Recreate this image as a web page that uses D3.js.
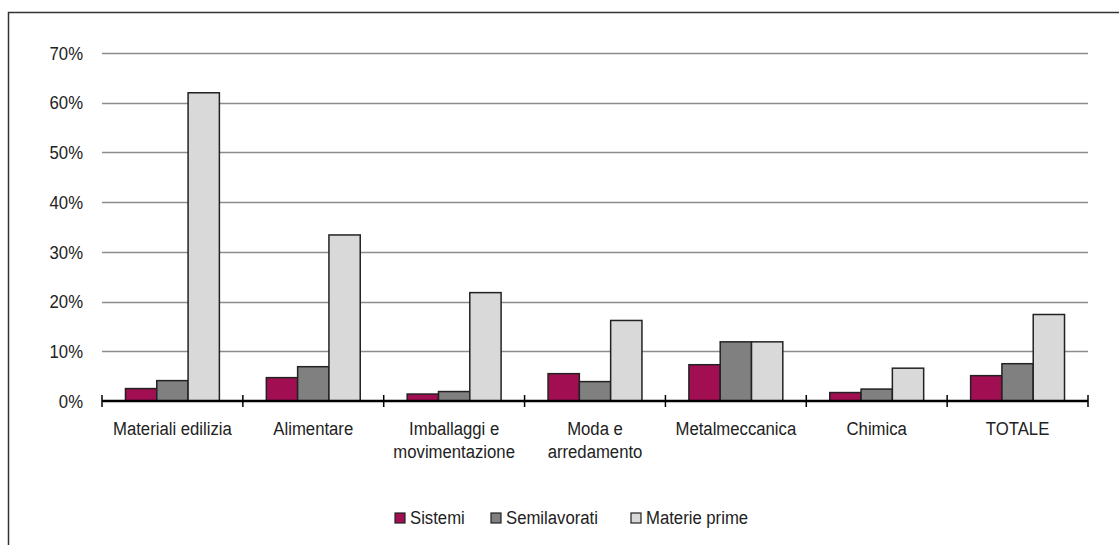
<!DOCTYPE html>
<html>
<head>
<meta charset="utf-8">
<script src="https://cdn.jsdelivr.net/npm/d3@7"></script>
<style>
  body { margin: 0; background: #fff; }
  svg text { font-family: "Liberation Sans Narrow", "Arial Narrow", "Liberation Sans", Arial, sans-serif; fill: #222; }
</style>
</head>
<body>
<div id="chart"></div>
<script>
// categories (x axis), multi-line labels split on "\n"
var categories = ["Materiali edilizia", "Alimentare", "Imballaggi e\nmovimentazione", "Moda e\narredamento", "Metalmeccanica", "Chimica", "TOTALE"];
var seriesNames = ["Sistemi", "Semilavorati", "Materie prime"];
var seriesColors = ["#a10e52", "#808080", "#d9d9d9"];

// values in %
var sistemi      = [2.5, 4.7, 1.4, 5.5, 7.3, 1.7, 5.1];
var semilavorati = [4.1, 6.9, 1.9, 3.9, 11.9, 2.4, 7.5];
var materiePrime = [62.0, 33.4, 21.8, 16.2, 11.9, 6.6, 17.4];

var yTicks = [0, 10, 20, 30, 40, 50, 60, 70];

/*
------------------------
dimensions
------------------------
*/
var W = 1119, H = 545;
var margin = { top: 53, left: 102, right: W - 1088, bottom: H - 401 };
var width = W - margin.left - margin.right,
  height = H - margin.top - margin.bottom;

// narrow look: fake Arial Narrow by squeezing the text horizontally
var fontSize = "19px";
var squeeze = 0.88;

var svg = d3.select("#chart").append("svg")
  .attr("width", W)
  .attr("height", H);

// outer frame (top and left edge only visible)
svg.append("path")
  .attr("d", "M8.5," + H + "V12.5H" + W)
  .attr("fill", "none")
  .attr("stroke", "#333")
  .attr("stroke-width", 1.5);

var g = svg.append("g")
  .attr("transform", "translate(" + margin.left + "," + margin.top + ")");

var x0 = d3.scaleBand()
  .domain(categories)
  .range([0, width])
  .paddingInner(0)
  .paddingOuter(0);

// Excel-like gap of 150%: 3 bars + 1.5 bar of gap per group
var x1 = d3.scaleBand()
  .domain(seriesNames)
  .range([x0.bandwidth() * 0.75 / 4.5, x0.bandwidth() - x0.bandwidth() * 0.75 / 4.5]);

var y = d3.scaleLinear()
  .domain([0, 70])
  .range([height, 0]);

// gridlines
g.append("g")
  .selectAll("line")
  .data(yTicks.filter(function(d) { return d > 0; }))
  .enter()
  .append("line")
  .attr("x1", 0)
  .attr("x2", width)
  .attr("y1", function(d) { return Math.round(y(d)) + 0.5; })
  .attr("y2", function(d) { return Math.round(y(d)) + 0.5; })
  .attr("stroke", "#8c8c8c")
  .attr("stroke-width", 1.5);

// y labels
g.append("g")
  .selectAll("text")
  .data(yTicks)
  .enter()
  .append("text")
  .attr("transform", function(d) { return "translate(-19," + y(d) + ") scale(" + squeeze + ",1)"; })
  .attr("dy", "0.35em")
  .attr("text-anchor", "end")
  .style("font-size", fontSize)
  .text(function(d) { return d + "%"; });

// bars
var data = categories.map(function(c, i) {
  return { cat: c, vals: [sistemi[i], semilavorati[i], materiePrime[i]] };
});

var groups = g.selectAll(".grp")
  .data(data)
  .enter()
  .append("g")
  .attr("class", "grp")
  .attr("transform", function(d) { return "translate(" + x0(d.cat) + ",0)"; });

groups.selectAll("rect")
  .data(function(d) { return d.vals.map(function(v, j) { return { s: seriesNames[j], v: v, j: j }; }); })
  .enter()
  .append("rect")
  .attr("x", function(d) { return x1(d.s); })
  .attr("y", function(d) { return y(d.v); })
  .attr("width", x1.bandwidth())
  .attr("height", function(d) { return height - y(d.v); })
  .attr("fill", function(d) { return seriesColors[d.j]; })
  .attr("stroke", "#222")
  .attr("stroke-width", 1.5);

// x axis line with cross ticks
var xAxis = g.append("g").attr("transform", "translate(0," + height + ")");
xAxis.append("line")
  .attr("x1", 0).attr("x2", width)
  .attr("y1", 0).attr("y2", 0)
  .attr("stroke", "#000")
  .attr("stroke-width", 2.5);

var tickPos = categories.map(function(c) { return x0(c); }).concat([width]);
xAxis.selectAll(".tk")
  .data(tickPos)
  .enter()
  .append("line")
  .attr("class", "tk")
  .attr("x1", function(d) { return d; })
  .attr("x2", function(d) { return d; })
  .attr("y1", -6).attr("y2", 6)
  .attr("stroke", "#000")
  .attr("stroke-width", 1.5);

// category labels
var labels = xAxis.selectAll(".lbl")
  .data(categories)
  .enter()
  .append("text")
  .attr("class", "lbl")
  .attr("text-anchor", "middle")
  .attr("transform", function(d) { return "translate(" + (x0(d) + x0.bandwidth() / 2) + ",34) scale(" + squeeze + ",1)"; })
  .style("font-size", fontSize);

labels.selectAll("tspan")
  .data(function(d) { return d.split("\n"); })
  .enter()
  .append("tspan")
  .attr("x", 0)
  .attr("dy", function(d, i) { return i === 0 ? 0 : 23; })
  .text(function(d) { return d; });

// legend
var legendX = [395, 491, 631];
var legend = svg.append("g").attr("transform", "translate(0,513)");
seriesNames.forEach(function(name, i) {
  legend.append("rect")
    .attr("x", legendX[i])
    .attr("y", 0)
    .attr("width", 10)
    .attr("height", 10)
    .attr("fill", seriesColors[i])
    .attr("stroke", "#222")
    .attr("stroke-width", 1.2);
  legend.append("text")
    .attr("transform", "translate(" + (legendX[i] + 15) + ",11) scale(" + squeeze + ",1)")
    .style("font-size", fontSize)
    .text(name);
});
</script>
</body>
</html>
